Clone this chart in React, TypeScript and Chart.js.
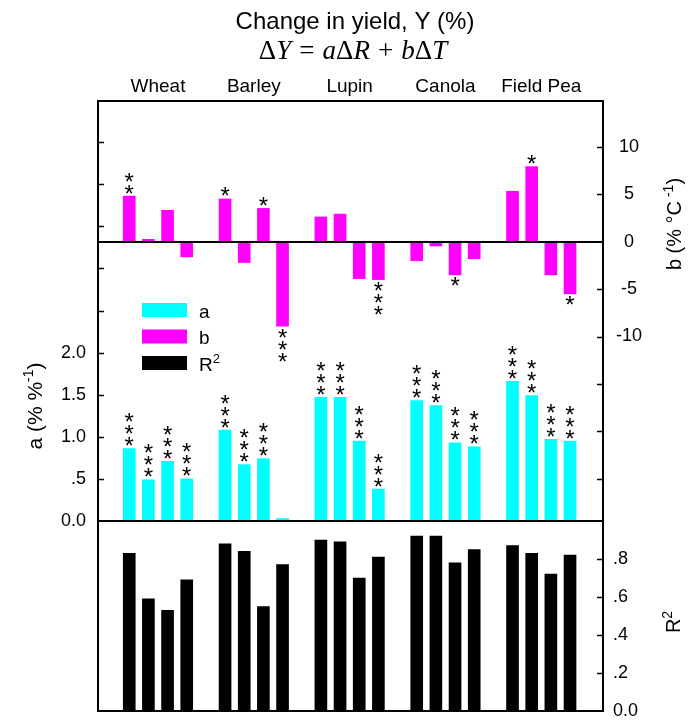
import React, { useEffect, useRef } from 'react';
import { Chart, registerables } from 'chart.js';

Chart.register(...registerables);

// Crops and the four bars drawn for each of them
const crops = ['Wheat', 'Barley', 'Lupin', 'Canola', 'Field Pea'];
const barsPerCrop = 4;

// Rainfall coefficient a (% %-1)
const aValues = [0.86, 0.49, 0.71, 0.5, 1.08, 0.67, 0.74, 0.03, 1.47, 1.47, 0.95, 0.38, 1.43, 1.37, 0.93, 0.88, 1.66, 1.49, 0.97, 0.95];
const aSignif = ['***', '***', '***', '***', '***', '***', '***', '', '***', '***', '***', '***', '***', '***', '***', '***', '***', '***', '***', '***'];

// Temperature coefficient b (% °C-1)
const bValues = [4.8, 0.24, 3.3, -1.6, 4.5, -2.2, 3.5, -8.9, 2.6, 2.9, -3.9, -4.0, -2.0, -0.46, -3.5, -1.8, 5.3, 7.9, -3.5, -5.5];
const bSignif = ['**', '', '', '', '*', '', '*', '***', '', '', '', '***', '', '', '*', '', '', '*', '', '*'];

// Coefficient of determination
const r2Values = [0.83, 0.59, 0.53, 0.69, 0.88, 0.84, 0.55, 0.77, 0.9, 0.89, 0.7, 0.81, 0.92, 0.92, 0.78, 0.85, 0.87, 0.83, 0.72, 0.82];

// Axis ticks
const aTickValues = [0, 0.5, 1, 1.5, 2];
const aTickLabels = ['0.0', '.5', '1.0', '1.5', '2.0'];
const aTickMarks = [0.5, 1, 1.5, 2, 2.5, 3, 3.5, 4, 4.5];
const bTickValues = [10, 5, 0, -5, -10];
const bTickLabels = ['10', '5', '0', '-5', '-10'];
const bTickMarks = [10, 5, -5, -10, -15, -20, -25];
const r2TickValues = [0, 0.2, 0.4, 0.6, 0.8];
const r2TickLabels = ['0.0', '.2', '.4', '.6', '.8'];
const r2TickMarks = [0.2, 0.4, 0.6, 0.8];

const SANS = '"Liberation Sans", Arial, sans-serif';
const SERIF = '"Liberation Serif", "Times New Roman", serif';
const CYAN = '#00FFFF';
const MAGENTA = '#FF00FF';
const BLACK = '#000000';

// Axis ranges
const X_MIN = -0.63;
const X_MAX = 25.72;
const A_MAX = 4.99;
const B_MIN = -29.44;
const B_MAX = 14.82;
const R2_MAX = 1.0;

// slot of bar i on the x axis: four bars per crop, one empty slot between crops
const slotOf = (i: number) => Math.floor(i / barsPerCrop) * (barsPerCrop + 1) + (i % barsPerCrop) + 1;

type Part = { t: string; sup?: boolean; italic?: boolean; gap?: number };

function partFont(p: Part, size: number, family: string) {
  const s = p.sup ? Math.round(size * 0.68) : size;
  return `${p.italic ? 'italic ' : ''}${s}px ${family}`;
}

function drawRich(
  ctx: CanvasRenderingContext2D,
  parts: Part[],
  x: number,
  y: number,
  size: number,
  family: string,
  align: 'left' | 'center' = 'center',
  rotated = false,
) {
  ctx.save();
  ctx.translate(x, y);
  if (rotated) ctx.rotate(-Math.PI / 2);
  ctx.textAlign = 'left';
  ctx.textBaseline = 'alphabetic';
  let total = 0;
  const widths = parts.map((p) => {
    ctx.font = partFont(p, size, family);
    const w = ctx.measureText(p.t).width + 2 * (p.gap || 0) * size;
    total += w;
    return w;
  });
  let cx = align === 'center' ? -total / 2 : 0;
  parts.forEach((p, i) => {
    ctx.font = partFont(p, size, family);
    ctx.fillText(p.t, cx + (p.gap || 0) * size, p.sup ? -size * 0.42 : 0);
    cx += widths[i];
  });
  ctx.restore();
}

const legendParts: Part[][] = [[{ t: 'a' }], [{ t: 'b' }], [{ t: 'R' }, { t: '2', sup: true }]];

const decorations = {
  id: 'decorations',
  afterDatasetsDraw(chart: any) {
    const ctx: CanvasRenderingContext2D = chart.ctx;
    const { left, right, top, bottom } = chart.chartArea;
    const sx = chart.scales.x;
    const sa = chart.scales.yA;
    const sb = chart.scales.yB;
    const sr = chart.scales.yR;
    ctx.save();
    ctx.fillStyle = BLACK;
    ctx.strokeStyle = BLACK;

    // frame, zero line of b and the panel divider
    ctx.lineWidth = 2;
    ctx.strokeRect(left, top, right - left, bottom - top);
    const hline = (y: number) => {
      ctx.beginPath();
      ctx.moveTo(left, y);
      ctx.lineTo(right, y);
      ctx.stroke();
    };
    hline(Math.round(sb.getPixelForValue(0)));
    hline(Math.round(sa.getPixelForValue(0)));

    // inward tick marks
    ctx.lineWidth = 1.5;
    const marks = (scale: any, values: number[], side: 'left' | 'right') => {
      values.forEach((v) => {
        const y = Math.round(scale.getPixelForValue(v)) + 0.5;
        ctx.beginPath();
        if (side === 'left') {
          ctx.moveTo(left, y);
          ctx.lineTo(left + 6, y);
        } else {
          ctx.moveTo(right - 6, y);
          ctx.lineTo(right, y);
        }
        ctx.stroke();
      });
    };
    marks(sa, aTickMarks, 'left');
    marks(sb, bTickMarks, 'right');
    marks(sr, r2TickMarks, 'right');

    // significance asterisks
    ctx.font = `24px ${SANS}`;
    ctx.textAlign = 'center';
    ctx.textBaseline = 'alphabetic';
    const m = ctx.measureText('*');
    const mid = (m.actualBoundingBoxAscent - m.actualBoundingBoxDescent) / 2;
    const stars = (values: number[], sig: string[], scale: any) => {
      values.forEach((v, i) => {
        const n = sig[i].length;
        const xp = sx.getPixelForValue(slotOf(i));
        const edge = scale.getPixelForValue(v);
        const dir = v >= 0 ? -1 : 1;
        for (let k = 0; k < n; k++) {
          const cy = edge + dir * (7 + k * 12);
          ctx.fillText('*', xp, cy + mid);
        }
      });
    };
    stars(aValues, aSignif, sa);
    stars(bValues, bSignif, sb);

    // legend
    chart.data.datasets.forEach((d: any, i: number) => {
      const y = 303 + i * 26.5;
      ctx.fillStyle = d.backgroundColor;
      ctx.fillRect(142, y, 45, 14);
      ctx.fillStyle = BLACK;
      drawRich(ctx, legendParts[i], 199, y + 14.5, 19, SANS, 'left');
    });

    // titles
    drawRich(ctx, [{ t: 'Change in yield, Y (%)' }], 355, 29, 24, SANS);
    drawRich(
      ctx,
      [
        { t: 'Δ' },
        { t: 'Y', italic: true },
        { t: '=', gap: 0.3 },
        { t: 'a', italic: true },
        { t: 'Δ' },
        { t: 'R', italic: true },
        { t: '+', gap: 0.3 },
        { t: 'b', italic: true },
        { t: 'Δ' },
        { t: 'T', italic: true },
      ],
      353,
      59,
      27,
      SERIF,
    );

    // axis titles
    drawRich(ctx, [{ t: 'a (% %' }, { t: '-1', sup: true }, { t: ')' }], 42, 406, 21, SANS, 'center', true);
    drawRich(ctx, [{ t: 'b (% °C' }, { t: ' -1', sup: true }, { t: ')' }], 681, 224, 20, SANS, 'center', true);
    drawRich(ctx, [{ t: 'R' }, { t: '2', sup: true }], 680, 622, 20, SANS, 'center', true);

    ctx.restore();
  },
};

const tickFont = { size: 18, family: SANS, lineHeight: 1 };
const noGrid = { display: false, drawTicks: false };
const noBorder = { display: false };

// fixed axis box sizes; label overhang is allowed to spill into the margins
const fixWidth = (w: number) => (s: any) => {
  s.width = w;
  s.paddingTop = 0;
  s.paddingBottom = 0;
};

export default function App() {
  const canvasRef = useRef<HTMLCanvasElement>(null);

  useEffect(() => {
    const canvas = canvasRef.current;
    if (!canvas) return;
    const xy = (values: number[]) => values.map((v, i) => ({ x: slotOf(i), y: v }));
    const barStyle = { barThickness: 12, grouped: false, borderWidth: 0 };
    const chart = new Chart(canvas, {
      type: 'bar',
      data: {
        datasets: [
          { label: 'a', data: xy(aValues), yAxisID: 'yA', backgroundColor: CYAN, ...barStyle },
          { label: 'b', data: xy(bValues), yAxisID: 'yB', backgroundColor: MAGENTA, ...barStyle },
          { label: 'R²', data: xy(r2Values), yAxisID: 'yR', backgroundColor: BLACK, ...barStyle },
        ],
      },
      options: {
        responsive: false,
        animation: false,
        devicePixelRatio: 1,
        layout: { padding: { top: 0, left: 0, right: 0, bottom: 9 } },
        plugins: { legend: { display: false }, tooltip: { enabled: false }, title: { display: false } },
        scales: {
          x: {
            type: 'linear',
            position: 'top',
            min: X_MIN,
            max: X_MAX,
            offset: false,
            grid: noGrid,
            border: noBorder,
            afterBuildTicks: (s: any) => {
              s.ticks = crops.map((_, i) => ({ value: i * (barsPerCrop + 1) + (barsPerCrop + 1) / 2 }));
            },
            afterFit: (s: any) => {
              s.height = 101;
              s.paddingLeft = 0;
              s.paddingRight = 0;
            },
            ticks: {
              callback: (_v: any, i: number) => crops[i],
              padding: 5,
              autoSkip: false,
              maxRotation: 0,
              color: BLACK,
              font: { size: 19, family: SANS, lineHeight: 1 },
            },
          },
          yLow: {
            type: 'linear',
            position: 'left',
            stack: 'left',
            stackWeight: 190,
            min: 0,
            max: 1,
            grid: noGrid,
            border: noBorder,
            afterBuildTicks: (s: any) => {
              s.ticks = [];
            },
            afterFit: fixWidth(98),
            ticks: { display: false },
          },
          yA: {
            type: 'linear',
            position: 'left',
            stack: 'left',
            stackWeight: 420,
            min: 0,
            max: A_MAX,
            grid: noGrid,
            border: noBorder,
            afterBuildTicks: (s: any) => {
              s.ticks = aTickValues.map((v) => ({ value: v }));
            },
            afterFit: fixWidth(98),
            ticks: {
              callback: (_v: any, i: number) => aTickLabels[i],
              padding: 12,
              color: BLACK,
              autoSkip: false,
              font: tickFont,
            },
          },
          yB: {
            type: 'linear',
            position: 'right',
            stack: 'right',
            stackWeight: 420,
            min: B_MIN,
            max: B_MAX,
            grid: noGrid,
            border: noBorder,
            afterBuildTicks: (s: any) => {
              s.ticks = bTickValues.map((v) => ({ value: v }));
            },
            afterFit: fixWidth(96),
            ticks: {
              callback: (_v: any, i: number) => bTickLabels[i],
              padding: 13,
              crossAlign: 'center',
              color: BLACK,
              autoSkip: false,
              font: tickFont,
            },
          },
          yR: {
            type: 'linear',
            position: 'right',
            stack: 'right',
            stackWeight: 190,
            min: 0,
            max: R2_MAX,
            grid: noGrid,
            border: noBorder,
            afterBuildTicks: (s: any) => {
              s.ticks = r2TickValues.map((v) => ({ value: v }));
            },
            afterFit: fixWidth(96),
            ticks: {
              callback: (_v: any, i: number) => r2TickLabels[i],
              padding: 10,
              color: BLACK,
              autoSkip: false,
              font: tickFont,
            },
          },
        },
      },
      plugins: [decorations],
    } as any);
    return () => chart.destroy();
  }, []);

  return (
    <div style={{ position: 'absolute', left: 0, top: 0, width: 699, height: 720, background: '#ffffff' }}>
      <canvas ref={canvasRef} width={699} height={720} style={{ display: 'block' }} />
    </div>
  );
}
